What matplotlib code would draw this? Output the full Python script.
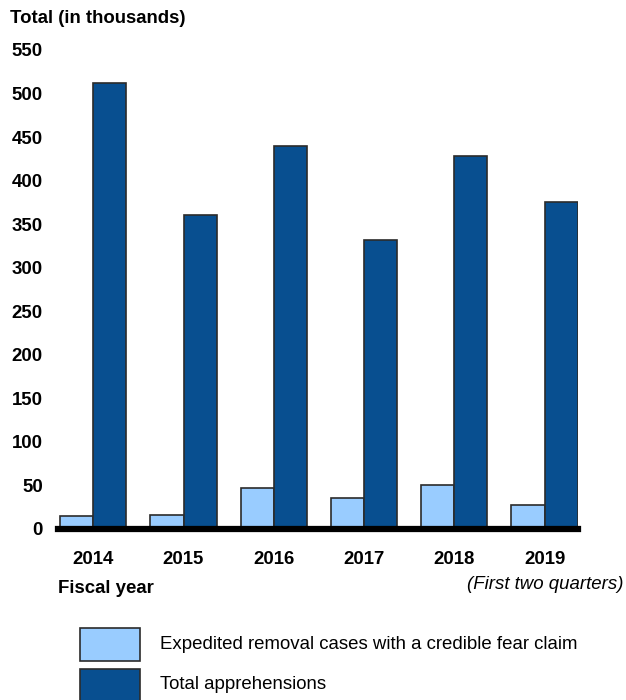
import matplotlib.pyplot as plt
import numpy as np
from matplotlib.patches import Rectangle

plt.rcParams["font.family"] = ["Liberation Sans", "DejaVu Sans"]

# Data (in thousands)
years = ["2014", "2015", "2016", "2017", "2018", "2019"]
credible_fear = [15, 16, 47, 36, 50, 27]
apprehensions = [512, 361, 440, 332, 428, 375]
y_ticks = list(range(0, 551, 50))

light_blue = "#99CCFF"
dark_blue = "#084F90"
edge = "#2b2b2b"
fs = 13.4

fig = plt.figure(figsize=(6.26, 7.0), dpi=100)
ax = fig.add_axes([0.0927, 0.2443, 0.8306, 0.6843])

x = np.arange(len(years))
w = 0.367
ax.bar(x - w / 2, credible_fear, width=w, color=light_blue, edgecolor=edge, linewidth=1.2, zorder=2)
ax.bar(x + w / 2, apprehensions, width=w, color=dark_blue, edgecolor=edge, linewidth=1.2, zorder=2)

ax.set_xlim(-0.39, 5.37)
ax.set_ylim(0, 550)
ax.set_yticks(y_ticks)
ax.set_yticklabels([str(t) for t in y_ticks], fontsize=fs, fontweight="bold")
ax.tick_params(axis="y", length=0, pad=11)
ax.set_xticks(x)
ax.set_xticklabels(years, fontsize=fs, fontweight="bold")
ax.tick_params(axis="x", length=0, pad=16)
for s in ["top", "right", "left"]:
    ax.spines[s].set_visible(False)
ax.spines["bottom"].set_linewidth(4.5)
ax.spines["bottom"].set_zorder(3)

# Titles and notes
fig.text(0.016, 0.974, "Total (in thousands)", fontsize=fs, fontweight="bold", va="center", ha="left")
fig.text(0.0927, 0.1586, "Fiscal year", fontsize=fs, fontweight="bold", va="center", ha="left")
fig.text(0.996, 0.165, "(First two quarters)", fontsize=fs, fontstyle="italic", va="center", ha="right")

# Legend
labels = ["Expedited removal cases with a credible fear claim", "Total apprehensions"]
colors = [light_blue, dark_blue]
for i, (lab, col) in enumerate(zip(labels, colors)):
    yb = 0.056 - i * 0.058
    fig.patches.append(Rectangle((0.128, yb), 0.096, 0.047, transform=fig.transFigure,
                                 facecolor=col, edgecolor=edge, linewidth=1.2))
    fig.text(0.256, yb + 0.0235, lab, fontsize=fs, va="center", ha="left")

fig.savefig("out.png", dpi=100)
